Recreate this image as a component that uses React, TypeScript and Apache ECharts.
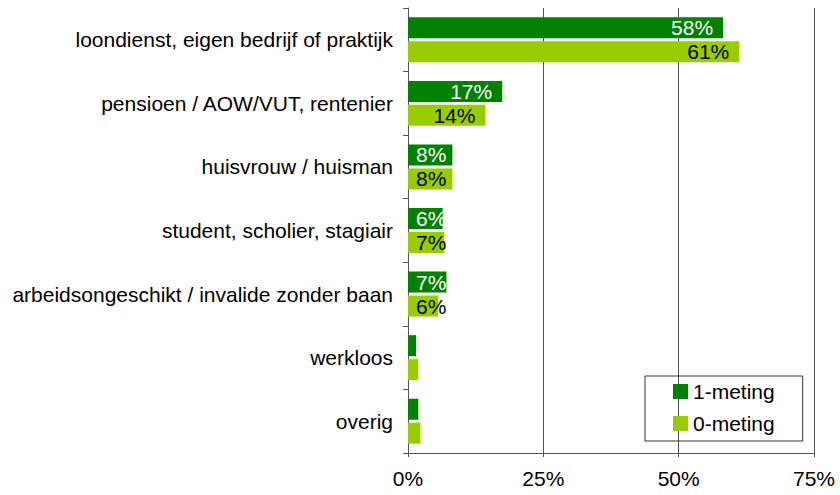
import React, { useEffect, useRef } from "react";
import * as echarts from "echarts";

const categories = [
  "loondienst, eigen bedrijf of praktijk",
  "pensioen / AOW/VUT, rentenier",
  "huisvrouw / huisman",
  "student, scholier, stagiair",
  "arbeidsongeschikt / invalide zonder baan",
  "werkloos",
  "overig",
];
const meting1 = [58.2, 17.4, 8.2, 6.4, 7.1, 1.5, 1.9];
const meting0 = [61.2, 14.3, 8.2, 6.7, 5.6, 1.9, 2.3];
const seriesNames = ["1-meting", "0-meting"];

const FONT = "'Liberation Sans', Arial, sans-serif";

function toData(values: number[]) {
  return values.map((v) => ({
    value: v,
    label:
      v < 10
        ? { position: "insideLeft", distance: 8 }
        : { position: "insideRight", distance: 10 },
  }));
}

export default function App() {
  const ref = useRef<HTMLDivElement>(null);
  useEffect(() => {
    if (!ref.current) return;
    const chart = echarts.init(ref.current, null, { renderer: "svg" });
    const fmt = (p: any) => (p.value >= 3 ? Math.round(p.value) + "%" : "");
    chart.setOption({
      animation: false,
      textStyle: { fontFamily: FONT },
      grid: { left: 408, right: 26, top: 8, bottom: 42, containLabel: false },
      legend: {
        orient: "vertical",
        left: 645,
        top: 376,
        padding: [5, 28, 7, 28],
        itemGap: 11,
        itemWidth: 15,
        itemHeight: 15,
        borderColor: "#333",
        borderWidth: 1,
        icon: "rect",
        textStyle: { fontSize: 21, color: "#000", fontFamily: FONT },
        data: seriesNames,
      },
      xAxis: {
        type: "value",
        min: 0,
        max: 75,
        interval: 25,
        axisLine: { show: true, lineStyle: { color: "#555", width: 1 } },
        axisTick: { show: true, length: 4, lineStyle: { color: "#555" } },
        splitLine: { show: true, lineStyle: { color: "#555", width: 1 } },
        axisLabel: {
          formatter: "{value}%",
          fontSize: 21,
          color: "#000",
          margin: 15,
          fontFamily: FONT,
        },
      },
      yAxis: {
        type: "category",
        data: categories,
        inverse: true,
        axisLine: { show: true, lineStyle: { color: "#555", width: 1 } },
        axisTick: { show: true, length: 5, lineStyle: { color: "#555" } },
        axisLabel: {
          fontSize: 21,
          color: "#000",
          margin: 15,
          fontFamily: FONT,
        },
      },
      series: [
        {
          name: seriesNames[0],
          type: "bar",
          data: toData(meting1),
          barWidth: 21,
          barGap: "14%",
          itemStyle: { color: "#008000" },
          label: {
            show: true,
            formatter: fmt,
            color: "#fff",
            fontSize: 21,
            fontFamily: FONT,
          },
        },
        {
          name: seriesNames[1],
          type: "bar",
          data: toData(meting0),
          barWidth: 21,
          itemStyle: { color: "#99CC00" },
          label: {
            show: true,
            formatter: fmt,
            color: "#000",
            fontSize: 21,
            fontFamily: FONT,
          },
        },
      ],
    });
    return () => chart.dispose();
  }, []);
  return <div ref={ref} style={{ width: 840, height: 495, position: "absolute", left: 0, top: 0 }} />;
}
